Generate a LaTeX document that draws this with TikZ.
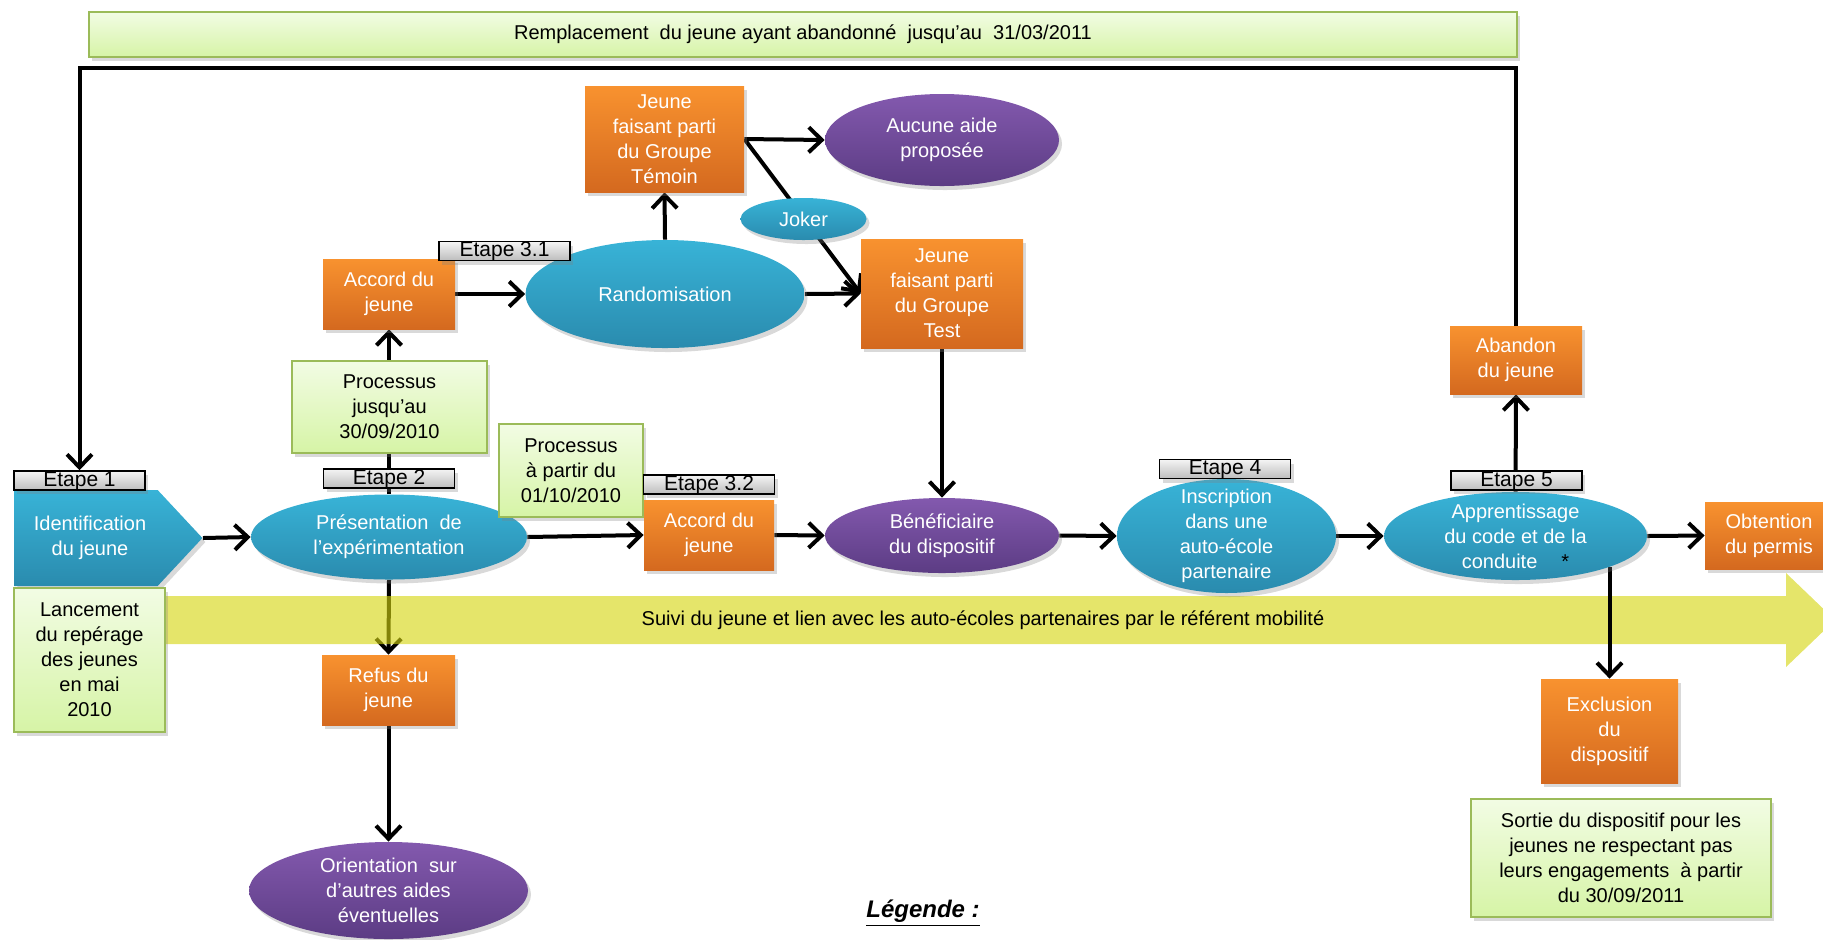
\documentclass[tikz,border=0pt]{standalone}
\usepackage{fontspec}
\setmainfont{Liberation Sans}
\usepackage{xcolor}
\usetikzlibrary{arrows.meta,positioning,calc,backgrounds,shadows,
  shapes.geometric,shapes.symbols}
\definecolor{orTop}{HTML}{F8922F}
\definecolor{orBot}{HTML}{D4691F}
\definecolor{blTop}{HTML}{38B3D7}
\definecolor{blBot}{HTML}{2A8BAE}
\definecolor{puTop}{HTML}{8359AE}
\definecolor{puBot}{HTML}{5C3C84}
\definecolor{grTop}{HTML}{F2FCE4}
\definecolor{grBot}{HTML}{D6F4A6}
\definecolor{grLine}{HTML}{9BBB59}
\definecolor{bandc}{HTML}{D5D50E}
\definecolor{etTop}{HTML}{F4F4F4}
\definecolor{etBot}{HTML}{BDBDBD}
\tikzset{
  txt/.style={font=\fontsize{10}{12.5}\selectfont,align=center},
  ombre/.style={drop shadow={opacity=0.3,shadow xshift=1.5pt,shadow yshift=-2pt}},
  obox/.style={txt,ombre,rectangle,top color=orTop,bottom color=orBot,text=white,inner sep=1pt},
  oval/.style={ombre,ellipse,inner sep=0pt},
  blueoval/.style={oval,top color=blTop,bottom color=blBot},
  purpoval/.style={oval,top color=puTop,bottom color=puBot},
  wlab/.style={txt,text=white,inner sep=0pt},
  gbox/.style={txt,ombre,draw=grLine,line width=0.8pt,top color=grTop,bottom color=grBot,inner sep=1pt},
  % --- small grey "Etape" tags sitting on the shapes ---
  etape/.style={ombre,draw=black,line width=0.8pt,top color=etTop,bottom color=etBot,
    font=\fontsize{10.5}{10.5}\selectfont,inner sep=0pt,minimum width=65.5pt,
    minimum height=9.5pt,text height=7.5pt,text depth=1.6pt},
  flow/.style={-{Straight Barb[length=6.5pt,width=12.5pt]},line width=2pt,draw=black},
}
\begin{document}
\begin{tikzpicture}[x=0.5pt,y=-0.5pt]
  \useasboundingbox (0,0) rectangle (1823,939);
  \node[gbox,minimum width=714pt,minimum height=22.5pt] (remplace) at (803,34.5)
    {Remplacement\ \ du jeune ayant abandonné\ \ jusqu’au\ \ 31/03/2011};
  % upper branch: randomisation
  \node[obox,minimum width=79.5pt,minimum height=53pt] (temoin) at (664.5,139)
    {Jeune\\faisant parti\\du Groupe\\Témoin};
  \node[purpoval,minimum width=117pt,minimum height=46pt,
    label={[wlab]center:{Aucune aide\\proposée}}] (aucune) at (942,140) {};
  \node[blueoval,minimum width=139.5pt,minimum height=54pt,
    label={[wlab]center:Randomisation}] (rando) at (665,294) {};
  \node[obox,minimum width=66pt,minimum height=35pt] (accordA) at (389,294) {Accord du\\jeune};
  \node[etape] (etapeC) at (504.5,251) {Etape 3.1};
  \node[obox,minimum width=81pt,minimum height=54.5pt] (test) at (942,293.5)
    {Jeune\\faisant parti\\du Groupe\\Test};
  \node[blueoval,minimum width=63pt,minimum height=21pt,
    label={[wlab]center:Joker}] (joker) at (803.5,219) {};
  \node[gbox,minimum width=97.5pt,minimum height=46pt] (procA) at (389.5,407)
    {Processus\\jusqu’au\\30/09/2010};
  % main line
  \node[ombre,signal,signal to=east,signal pointer angle=94,top color=blTop,bottom color=blBot,
    minimum width=94pt,minimum height=48pt,inner sep=0pt,anchor=west,
    label={[wlab,xshift=2pt]center:{Identification\\du jeune}}] (ident) at (14,538) {};
  \node[etape] (etapeA) at (79.5,480.5) {Etape 1};
  \node[blueoval,minimum width=138pt,minimum height=42.5pt,
    label={[wlab]center:{Présentation\ \ de\\l’expérimentation}}] (pres) at (389,537) {};
  \node[etape] (etapeB) at (389,478.5) {Etape 2};
  \node[gbox,minimum width=72pt,minimum height=46.5pt] (procB) at (571,470.5)
    {Processus\\à partir du\\01/10/2010};
  \node[obox,minimum width=65pt,minimum height=35pt] (accordB) at (709,535) {Accord du\\jeune};
  \node[etape] (etapeD) at (709,484.5) {Etape 3.2};
  \node[purpoval,minimum width=117pt,minimum height=37.5pt,
    label={[wlab]center:{Bénéficiaire\\du dispositif}}] (benef) at (942,535.5) {};
  \node[blueoval,minimum width=109.5pt,minimum height=57pt,
    label={[wlab]center:{Inscription\\dans une\\auto-école\\partenaire}}] (inscr) at (1226.5,536) {};
  \node[etape] (etapeE) at (1225,469) {Etape 4};
  \node[blueoval,minimum width=131.5pt,minimum height=44pt,
    label={[wlab]center:{Apprentissage\\du code et de la\\conduite\hspace{1.2em}\textcolor{black}{*}}}]
    (appr) at (1515.5,536) {};
  \node[etape] (etapeF) at (1516.5,480.5) {Etape 5};
  \node[obox,minimum width=66pt,minimum height=34pt] (abandon) at (1516,360) {Abandon\\du jeune};
  \node[obox,minimum width=64pt,minimum height=33.5pt] (permis) at (1769,535.5) {Obtention\\du permis};
  % lower part
  \node[gbox,minimum width=75.5pt,minimum height=72pt] (lancement) at (89.5,660)
    {Lancement\\du repérage\\des jeunes\\en mai\\2010};
  \node[txt] (suivi) at (983,620)
    {Suivi du jeune et lien avec les auto-écoles partenaires par le référent mobilité};
  \node[obox,minimum width=66.5pt,minimum height=35pt] (refus) at (388.5,690) {Refus du\\jeune};
  \node[purpoval,minimum width=139.5pt,minimum height=48.5pt,
    label={[wlab]center:{Orientation\ \ sur\\d’autres aides\\éventuelles}}] (orient) at (388.5,890.5) {};
  \node[obox,minimum width=68.5pt,minimum height=52pt] (excl) at (1609.5,731)
    {Exclusion\\du\\dispositif};
  \node[gbox,minimum width=150pt,minimum height=59pt] (sortie) at (1621,858)
    {Sortie du dispositif pour les\\jeunes ne respectant pas\\leurs engagements\ \ à partir\\du 30/09/2011};
  \node[txt,font=\fontsize{12}{14}\selectfont] (legende) at (923,913)
    {\underline{\textbf{\textit{Légende :}}}};
  \coordinate (retour) at (79.5,68);
  \begin{scope}[on background layer]
    \draw[flow] (ident.east) -- (pres.west);
    \draw[flow] (pres.east) -- (accordB.west);
    \draw[flow] (accordB.east) -- (benef.west);
    \draw[flow] (benef.east) -- (inscr.west);
    \draw[flow] (inscr.east) -- (appr.west);
    \draw[flow] (appr.east) -- (permis.west);
    \draw[flow] (appr.north) -- (abandon.south);
    \draw[flow] (abandon.north) |- (retour) -- (etapeA.north);
    \draw[flow] (pres.north) -- (accordA.south);
    \draw[flow] (accordA.east) -- (rando.west);
    \draw[flow] (rando.north) -- (temoin.south);
    \draw[flow] (rando.east) -- (test.west);
    \draw[flow] (temoin.east) -- (aucune.west);
    \draw[flow] (temoin.east) -- (test.west);
    \draw[flow] (test.south) -- (benef.north);
    \draw[flow] (pres.south) -- (refus.north);
    \draw[flow] (refus.south) -- (orient.north);
    % follow-up band
    \fill[bandc,fill opacity=0.62] (164,596) -- (1786,596) -- (1786,573) -- (1835,620)
      -- (1786,667) -- (1786,644) -- (164,644) -- cycle;
    \draw[flow] (excl.north |- appr.-18) -- (excl.north);
  \end{scope}
\end{tikzpicture}
\end{document}
